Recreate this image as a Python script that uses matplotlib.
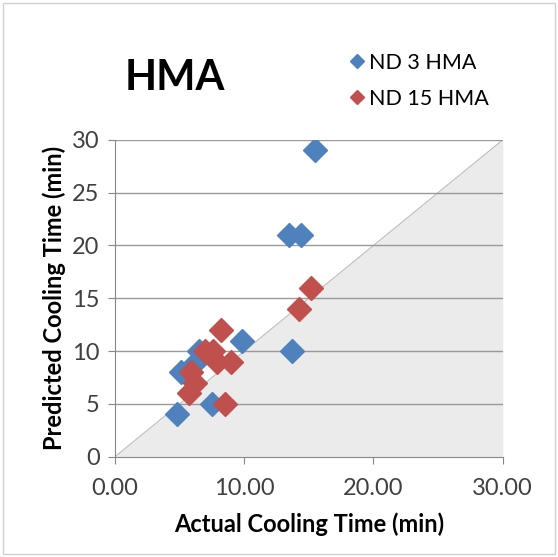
import matplotlib.pyplot as plt
from matplotlib.patches import Rectangle

# values
nd3_actual = [15.5, 13.5, 14.4, 9.8, 13.7, 4.8, 7.5, 5.1, 6.3, 6.5]
nd3_pred = [29, 21, 21, 11, 10, 4, 5, 8, 9, 10]
nd15_actual = [15.2, 14.2, 8.2, 7.0, 7.6, 7.9, 9.0, 5.9, 6.2, 5.7, 8.5]
nd15_pred = [16, 14, 12, 10, 10, 9, 9, 8, 7, 6, 5]

x_ticks = [0, 10, 20, 30]
y_ticks = [0, 5, 10, 15, 20, 25, 30]

blue = '#4F81BD'
red = '#C0504D'

plt.rcParams['font.family'] = ['Lato', 'DejaVu Sans']

fig = plt.figure(figsize=(5.58, 5.57), dpi=100)
ax = fig.add_axes([0.206, 0.18, 0.695, 0.569])

# shaded area below the 1:1 line
ax.fill_between([0, 30], [0, 30], 0, color='#EBEBEB', zorder=0, linewidth=0)
ax.plot([0, 30], [0, 30], color='#BBBBBB', lw=0.8, zorder=1)

for yv in y_ticks[1:]:
    ax.axhline(yv, color='#999999', lw=1.0, zorder=1)

ax.plot(nd3_actual, nd3_pred, 'D', color=blue, ms=12, mec=blue, zorder=3, label='ND 3 HMA')
ax.plot(nd15_actual, nd15_pred, 'D', color=red, ms=12, mec=red, zorder=3, label='ND 15 HMA')

ax.set_xlim(0, 30)
ax.set_ylim(0, 30)
ax.set_xticks(x_ticks)
ax.set_xticklabels([f'{v:.2f}' for v in x_ticks])
ax.set_yticks(y_ticks)
ax.tick_params(axis='both', length=5, color='#888888', labelsize=17, labelcolor='#404040')
ax.tick_params(axis='x', pad=10)
ax.tick_params(axis='y', pad=6)

for s in ['top', 'right']:
    ax.spines[s].set_visible(False)
for s in ['left', 'bottom']:
    ax.spines[s].set_color('#888888')

ax.set_xlabel('Actual Cooling Time (min)', fontsize=17, fontweight='bold', labelpad=10)
ax.set_ylabel('Predicted Cooling Time (min)', fontsize=17, fontweight='bold', labelpad=4)

fig.text(0.314, 0.86, 'HMA', fontsize=30, fontweight='bold', ha='center', va='center')
fig.legend(loc='upper left', bbox_to_anchor=(0.585, 0.94), frameon=False, fontsize=15.5,
           handletextpad=0.1, handlelength=1.0, markerscale=0.6, labelspacing=0.75)

# light frame around the whole chart
fig.add_artist(Rectangle((0.006, 0.006), 0.988, 0.988, transform=fig.transFigure,
                         fill=False, edgecolor='#D0D0D0', lw=1))

fig.savefig('out.png', dpi=100)
